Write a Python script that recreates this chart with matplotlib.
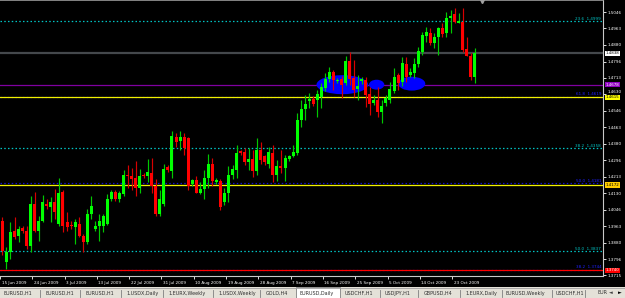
import matplotlib
matplotlib.use("Agg")
import matplotlib.pyplot as plt
import matplotlib.transforms as mtransforms
from matplotlib.patches import Ellipse, Rectangle

# ---------------- data (EURUSD daily, Jun-Oct 2009) ----------------
opens = [1.3988, 1.3781, 1.3832, 1.3938, 1.3913, 1.3953, 1.3938, 1.3862, 1.4074, 1.3938,
         1.3988, 1.4074, 1.4059, 1.4084, 1.3973, 1.4139, 1.3983, 1.3968, 1.3958, 1.3973,
         1.3913, 1.3882, 1.4023, 1.3948, 1.3963, 1.3963, 1.3973, 1.4099, 1.4139, 1.4099,
         1.4124, 1.4225, 1.4215, 1.4205, 1.4159, 1.4225, 1.4215, 1.4235, 1.4165, 1.4023,
         1.4074, 1.4265, 1.4245, 1.4417, 1.4396, 1.4417, 1.4412, 1.4175, 1.4195, 1.4134,
         1.4154, 1.4205, 1.4280, 1.4185, 1.4190, 1.4084, 1.4129, 1.4225, 1.4250, 1.4346,
         1.4341, 1.4286, 1.4301, 1.4245, 1.4351, 1.4316, 1.4280, 1.4336, 1.4220, 1.4270,
         1.4260, 1.4301, 1.4316, 1.4336, 1.4502, 1.4558, 1.4598, 1.4608, 1.4603, 1.4618,
         1.4664, 1.4709, 1.4744, 1.4699, 1.4709, 1.4689, 1.4800, 1.4714, 1.4658, 1.4699,
         1.4704, 1.4633, 1.4588, 1.4603, 1.4543, 1.4588, 1.4603, 1.4648, 1.4729, 1.4694,
         1.4784, 1.4729, 1.4739, 1.4784, 1.4845, 1.4926, 1.4941, 1.4890, 1.4921, 1.4966,
         1.4941, 1.5016, 1.5036, 1.4991, 1.4996, 1.4860, 1.4825, 1.4719]
highs = [1.4008, 1.3857, 1.3983, 1.4008, 1.3963, 1.3963, 1.3963, 1.4114, 1.4139, 1.4013,
         1.4119, 1.4099, 1.4109, 1.4154, 1.4205, 1.4149, 1.4034, 1.3988, 1.3998, 1.4008,
         1.3923, 1.4049, 1.4114, 1.3988, 1.4023, 1.4023, 1.4124, 1.4149, 1.4149, 1.4144,
         1.4250, 1.4275, 1.4260, 1.4291, 1.4255, 1.4235, 1.4301, 1.4306, 1.4200, 1.4149,
         1.4280, 1.4275, 1.4447, 1.4437, 1.4447, 1.4437, 1.4417, 1.4200, 1.4215, 1.4185,
         1.4250, 1.4331, 1.4306, 1.4205, 1.4200, 1.4159, 1.4270, 1.4275, 1.4376, 1.4351,
         1.4361, 1.4361, 1.4351, 1.4407, 1.4391, 1.4326, 1.4366, 1.4376, 1.4296, 1.4351,
         1.4326, 1.4326, 1.4376, 1.4538, 1.4603, 1.4628, 1.4638, 1.4623, 1.4653, 1.4689,
         1.4739, 1.4769, 1.4754, 1.4714, 1.4724, 1.4825, 1.4845, 1.4805, 1.4729, 1.4719,
         1.4719, 1.4669, 1.4628, 1.4669, 1.4603, 1.4628, 1.4694, 1.4764, 1.4739, 1.4820,
         1.4820, 1.4764, 1.4815, 1.4870, 1.4946, 1.4971, 1.4966, 1.4941, 1.4971, 1.4991,
         1.5047, 1.5057, 1.5067, 1.5041, 1.5067, 1.4921, 1.4840, 1.4865]
lows = [1.3817, 1.3746, 1.3797, 1.3897, 1.3882, 1.3928, 1.3847, 1.3832, 1.3933, 1.3887,
        1.3983, 1.4049, 1.3983, 1.3998, 1.3963, 1.3933, 1.3938, 1.3948, 1.3872, 1.3907,
        1.3832, 1.3872, 1.3998, 1.3938, 1.3887, 1.3933, 1.3968, 1.4089, 1.4089, 1.4084,
        1.4114, 1.4159, 1.4149, 1.4114, 1.4134, 1.4205, 1.4185, 1.4129, 1.4013, 1.4013,
        1.4064, 1.4240, 1.4205, 1.4366, 1.4351, 1.4326, 1.4149, 1.4165, 1.4129, 1.4124,
        1.4099, 1.4159, 1.4165, 1.4175, 1.4044, 1.4069, 1.4084, 1.4200, 1.4205, 1.4326,
        1.4275, 1.4250, 1.4210, 1.4220, 1.4280, 1.4275, 1.4260, 1.4185, 1.4190, 1.4235,
        1.4190, 1.4291, 1.4311, 1.4326, 1.4467, 1.4502, 1.4563, 1.4573, 1.4517, 1.4563,
        1.4648, 1.4694, 1.4653, 1.4689, 1.4613, 1.4679, 1.4679, 1.4618, 1.4603, 1.4684,
        1.4568, 1.4527, 1.4578, 1.4517, 1.4487, 1.4573, 1.4588, 1.4638, 1.4653, 1.4674,
        1.4694, 1.4719, 1.4714, 1.4769, 1.4830, 1.4895, 1.4880, 1.4865, 1.4830, 1.4921,
        1.4921, 1.4941, 1.4991, 1.4991, 1.4845, 1.4825, 1.4704, 1.4689]
closes = [1.3837, 1.3832, 1.3933, 1.3907, 1.3948, 1.3938, 1.3862, 1.4074, 1.3938, 1.3988,
          1.4084, 1.4064, 1.4084, 1.4034, 1.4134, 1.3963, 1.3958, 1.3963, 1.3983, 1.3913,
          1.3882, 1.4023, 1.4064, 1.3963, 1.3988, 1.4013, 1.4099, 1.4139, 1.4099, 1.4134,
          1.4225, 1.4215, 1.4200, 1.4159, 1.4215, 1.4215, 1.4240, 1.4165, 1.4023, 1.4099,
          1.4255, 1.4250, 1.4422, 1.4391, 1.4417, 1.4361, 1.4165, 1.4195, 1.4134, 1.4154,
          1.4205, 1.4280, 1.4190, 1.4195, 1.4059, 1.4134, 1.4225, 1.4255, 1.4336, 1.4336,
          1.4286, 1.4301, 1.4245, 1.4351, 1.4296, 1.4286, 1.4341, 1.4220, 1.4270, 1.4260,
          1.4306, 1.4316, 1.4341, 1.4502, 1.4558, 1.4583, 1.4608, 1.4583, 1.4633, 1.4669,
          1.4709, 1.4744, 1.4704, 1.4704, 1.4679, 1.4800, 1.4709, 1.4653, 1.4674, 1.4709,
          1.4628, 1.4583, 1.4603, 1.4543, 1.4573, 1.4613, 1.4658, 1.4719, 1.4689, 1.4789,
          1.4719, 1.4744, 1.4784, 1.4850, 1.4931, 1.4946, 1.4890, 1.4921, 1.4966, 1.4936,
          1.5016, 1.5026, 1.4996, 1.5001, 1.4855, 1.4825, 1.4719, 1.4840]

date_labels = ["15 Jun 2009", "24 Jun 2009", "3 Jul 2009", "13 Jul 2009", "22 Jul 2009",
               "31 Jul 2009", "10 Aug 2009", "19 Aug 2009", "28 Aug 2009", "7 Sep 2009",
               "16 Sep 2009", "25 Sep 2009", "5 Oct 2009", "14 Oct 2009", "23 Oct 2009"]

price_ticks = [1.5046, 1.4963, 1.4880, 1.4796, 1.4713, 1.4630, 1.4546, 1.4463, 1.4380,
               1.4296, 1.4213, 1.4130, 1.4046, 1.3963, 1.3880, 1.3796, 1.3715]

fib_cyan_levels = [1.4999, 1.4358, 1.3837]
fib_cyan_labels = ["23.6  1.4999", "38.2  1.4358", "50.0  1.3837"]
fib_blue_levels = [1.4619, 1.4181, 1.3744]
fib_blue_labels = ["61.8  1.4619", "50.0  1.4181", "38.2  1.3744"]

bid_price = 1.4838
purple_level = 1.4678
yellow_levels = [1.4615, 1.4172]
red_level = 1.3740

ellipse_bar = [84.2, 92.7, 101.4]
ellipse_price = [1.4679, 1.4679, 1.4684]
ellipse_w_bars = [12.8, 3.8, 6.7]
ellipse_h_price = [0.0096, 0.0050, 0.0070]

tab_labels = ["EURUSD,H1", "EURUSD,H1", "EURUSD,H1", "1.USDX,Daily", "1.EURX,Weekly",
              "1.USDX,Weekly", "GOLD,H4", "EURUSD,Daily", "USDCHF,H1", "USDJPY,H1",
              "GBPUSD,H4", "1.EURX,Daily", "EURUSD,Weekly", "USDCHF,H1", "EUR"]
active_tab = "EURUSD,Daily"

# ---------------- layout ----------------
W, H = 625, 298
fig = plt.figure(figsize=(W / 100, H / 100), dpi=100, facecolor="black")
plot_right_px, plot_bottom_px = 603, 276
ax = fig.add_axes([0, (H - plot_bottom_px) / H, plot_right_px / W, plot_bottom_px / H])
ax.set_facecolor("black")

px_per_bar = 4.05
ax.set_xlim(-0.12, -0.12 + plot_right_px / px_per_bar)
ax.set_ylim(1.3712, 1.5107)

# ellipses (behind candles)
for xc, yc, w, h in zip(ellipse_bar, ellipse_price, ellipse_w_bars, ellipse_h_price):
    ax.add_patch(Ellipse((xc, yc), w, h, facecolor="#0000ff", edgecolor="none", zorder=1))

# horizontal lines
for lv in fib_cyan_levels:
    ax.axhline(lv, color="#00c4c4", lw=0.9, ls=(0, (1.2, 1.8)), zorder=0.5)
for lv in fib_blue_levels:
    ax.axhline(lv, color="#1010d0", lw=0.9, ls=(0, (1.2, 1.8)), zorder=0.5)
ax.axhline(bid_price, color="#44484c", lw=1.6, zorder=0.5)
ax.axhline(purple_level, color="#8000a0", lw=0.9, zorder=0.6)
for lv in yellow_levels:
    ax.axhline(lv, color="#f0f000", lw=0.9, zorder=0.6)
ax.axhline(red_level, color="#ff0000", lw=0.9, zorder=0.6)

# candles
idx = list(range(len(opens)))
for i, o, hi, lo, c in zip(idx, opens, highs, lows, closes):
    up = c >= o
    body_col = "#00ff00" if up else "#ff0000"
    wick_col = "#00c800" if up else "#d80000"
    ax.vlines(i, lo, hi, color=wick_col, lw=0.85, zorder=2)
    bottom = min(o, c)
    height = max(abs(c - o), 0.0004)
    ax.bar(i, height, bottom=bottom, width=0.74, color=body_col, edgecolor="none", zorder=3)

# fib labels
lbl_tr = mtransforms.blended_transform_factory(ax.transAxes, ax.transData)
for lv, t in zip(fib_cyan_levels, fib_cyan_labels):
    ax.text(0.997, lv + 0.0003, t, transform=lbl_tr, ha="right", va="bottom",
            fontsize=3.0, color="#00c4c4", zorder=4)
for lv, t in zip(fib_blue_levels, fib_blue_labels):
    ax.text(0.997, lv + 0.0003, t, transform=lbl_tr, ha="right", va="bottom",
            fontsize=3.0, color="#2020ff", zorder=4)

# axes styling
ax.spines["left"].set_visible(False)
ax.spines["top"].set_color("#9a9a9a")
ax.spines["top"].set_linewidth(1.2)
ax.spines["right"].set_color("#c8c8c8")
ax.spines["bottom"].set_color("#c8c8c8")
ax.spines["right"].set_linewidth(0.8)
ax.spines["bottom"].set_linewidth(0.8)

ax.yaxis.tick_right()
ax.set_yticks(price_ticks)
ax.set_yticklabels([f"{p:.4f}" for p in price_ticks])
ax.tick_params(axis="y", colors="white", labelsize=3.0, length=2, width=0.6, pad=1.5)
# MT4 nudges a scale label upward when a price box sits just under it
for lab in ax.get_yticklabels():
    if lab.get_text() == "1.4630":
        lab.set_transform(lab.get_transform() + mtransforms.ScaledTranslation(0, 2.5 / 100, fig.dpi_scale_trans))

tick_first, tick_step = -0.6, 8.0
ax.set_xticks([tick_first + tick_step * k for k in range(len(date_labels))])
ax.set_xticklabels(date_labels, ha="left")
ax.tick_params(axis="x", colors="white", labelsize=3.0, length=2, width=0.6, pad=1.5)
for lab in ax.get_xticklabels():
    lab.set_transform(lab.get_transform() + mtransforms.ScaledTranslation(1.5 / 100, 0, fig.dpi_scale_trans))

# coloured price boxes on the right scale
boxes = [(bid_price, "white", "black"), (purple_level, "#9000c0", "white"),
         (yellow_levels[0], "#ffff00", "black"), (yellow_levels[1], "#ffcc00", "black"),
         (red_level, "#ff0000", "white")]
for val, fc, tc in boxes:
    ax.text(1.004, val, f"{val:.4f}", transform=lbl_tr, ha="left", va="center",
            fontsize=2.9, color=tc, zorder=10, clip_on=False,
            bbox=dict(facecolor=fc, edgecolor="none", pad=0.4))

# chart shift marker
ax.plot([0.8], [0.995], transform=ax.transAxes, marker="v", color="#a0a0a0",
        markersize=3, clip_on=False, zorder=10)

# ---------------- tab bar ----------------
tab_h = 11
tab_ax = fig.add_axes([0, 0, 1, tab_h / H])
tab_ax.set_xlim(0, W)
tab_ax.set_ylim(0, tab_h)
tab_ax.set_facecolor("#e4e1d8")
tab_ax.set_xticks([])
tab_ax.set_yticks([])
for s in tab_ax.spines.values():
    s.set_visible(False)
tab_ax.axhline(tab_h - 0.5, color="#a0a0a0", lw=0.6)

tab_left = [3, 45, 85, 126, 168, 218, 266, 300, 345, 385, 424, 465, 506, 556, 597]
sep_x = [40, 80, 121, 163, 213, 260, 380, 418, 460, 502, 552, 585]
for x0, t in zip(tab_left, tab_labels):
    if t == active_tab:
        tab_ax.add_patch(Rectangle((x0 - 4, 0), 44, tab_h - 0.3, facecolor="white",
                                   edgecolor="#808080", lw=0.6))
    tab_ax.text(x0, 5.0, t, fontsize=3.5, color="#303030", va="center", ha="left")
for sx in sep_x:
    tab_ax.plot([sx, sx], [1.5, 8.5], color="#808080", lw=0.6)
tab_ax.text(611, 5.0, "\u25c4", fontsize=3.5, color="#404040", va="center", ha="center")
tab_ax.text(620, 5.0, "\u25ba", fontsize=3.5, color="#000000", va="center", ha="center")

fig.savefig("out.png", dpi=100, facecolor="black")
